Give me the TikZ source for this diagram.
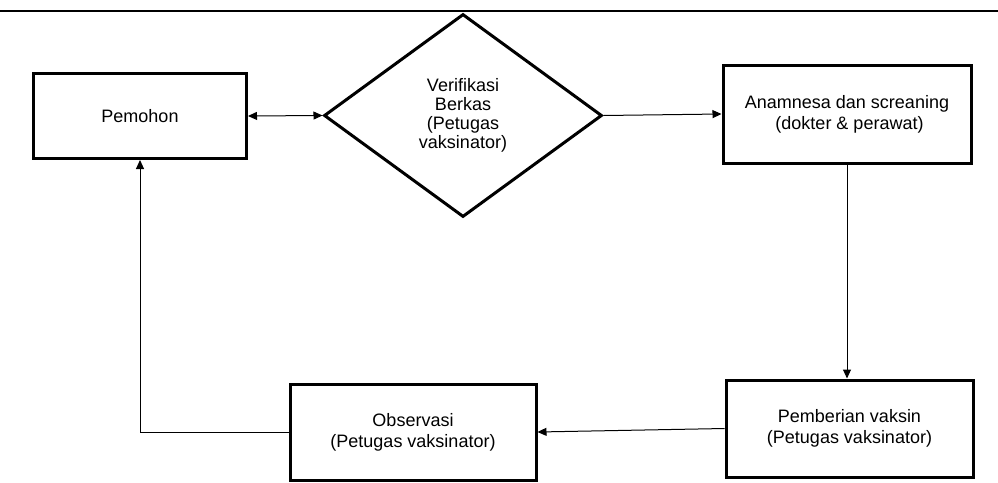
\documentclass[tikz,border=0pt]{standalone}
\usepackage{fontspec}
\setmainfont{Liberation Sans}
\usetikzlibrary{arrows.meta,shapes.geometric}
\tikzset{
	blok/.style={
			draw, line width=3pt, inner sep=0pt, align=center,
			font=\fontsize{18}{21}\selectfont
		},
	keputusan/.style={
			diamond, draw, line width=3pt, inner sep=0pt, align=center,
			font=\fontsize{18}{19}\selectfont
		},
	alur/.style={
			line width=1pt, -{Triangle[length=9pt,width=8pt]}
		}
}

\begin{document}
\begin{tikzpicture}[x=1pt, y=-1pt]
	\useasboundingbox (0,0) rectangle (998,482);
	\draw[line width=1.3pt] (0,11) -- (998,11);

	\node[blok, minimum width=213pt, minimum height=85pt] (pemohon) at (140,116) {Pemohon};
	\node[keputusan, minimum width=278pt, minimum height=203pt] (verifikasi) at (463,115.5) {Verifikasi\\Berkas\\(Petugas\\vaksinator)};
	\node[blok, minimum width=248pt, minimum height=98pt] (anamnesa) at (847,114) {Anamnesa dan screaning\\\ (dokter \& perawat)};
	\node[blok, minimum width=247pt, minimum height=97pt] (pemberian) at (849.5,428.5) {Pemberian vaksin\\(Petugas vaksinator)};
	\node[blok, minimum width=246pt, minimum height=96pt] (observasi) at (413,432) {Observasi\\(Petugas vaksinator)};

	\draw[alur, {Triangle[length=9pt,width=8pt]}-{Triangle[length=9pt,width=8pt]}] (pemohon.east) -- (verifikasi.west);
	\draw[alur] (verifikasi.east) -- (anamnesa.west);
	\draw[alur] (anamnesa.south) -- (anamnesa.south |- pemberian.north);
	\draw[alur] (pemberian.west) -- (observasi.east);
	\draw[alur] (observasi.west) -| (pemohon.south);
\end{tikzpicture}
\end{document}
